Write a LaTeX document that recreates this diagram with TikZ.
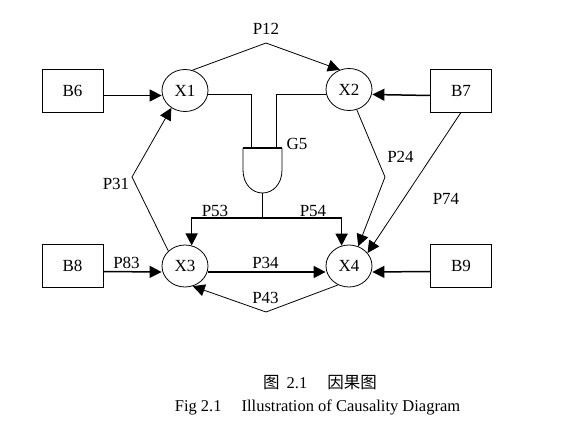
\documentclass[tikz,border=0pt]{standalone}
\usepackage{fontspec}
\setmainfont{Liberation Serif}
\newfontfamily\cjk{Noto Sans CJK SC}
\usetikzlibrary{positioning,shapes.geometric,arrows.meta}

\begin{document}
\begin{tikzpicture}[
  x=1pt, y=-1pt,
  font=\fontsize{17}{20}\selectfont,
  line width=0.8pt,
  box/.style={draw, minimum width=61pt, minimum height=43pt, inner sep=0pt},
  var/.style={draw, ellipse, minimum width=46pt, minimum height=42pt, inner sep=0pt},
  heavy/.style={line width=1.5pt},
  >={Triangle[length=12pt,width=12pt]}
]
\useasboundingbox (0,0) rectangle (580,425);

% inputs and variables
\node[box] (b6) at (72.5,90.5) {B6};
\node[var] (x1) at (185,90.5) {X1};
\node[var] (x2) at (349,89.5) {X2};
\node[box] (b7) at (461,90.5) {B7};
\node[box] (b8) at (72.5,265.5) {B8};
\node[var] (x3) at (185,266) {X3};
\node[var] (x4) at (349,266) {X4};
\node[box] (b9) at (461,265.5) {B9};

% gate G5
\coordinate (g5a) at (251,148);
\coordinate (g5b) at (276,148);
\coordinate (g5ta) at (251,94.5);
\coordinate (g5tb) at (276,94.5);
\coordinate (g5o) at (262.5,193);
\coordinate (bus) at (262.5,218);
\draw[heavy] (243,148) -- (282,148);
\draw (243,148) -- (243,170) .. controls (243,184) and (252,193) .. (g5o)
  .. controls (273,193) and (282,184) .. (282,170) -- (282,148);
\node (g5) at (297,143.5) {G5};

\draw[heavy] ([yshift=-4pt]x1.east) -- (g5ta);
\draw (g5ta) -- (g5a);
\draw[heavy] ([yshift=-5pt]x2.west) -- (g5tb);
\draw (g5tb) -- (g5b);
\draw (g5o) -- (bus);
\draw[->, heavy] (bus) -| (x3.72);
\draw[->, heavy] (bus) -| (x4.110);
\node (p53) at (215,211) {P53};
\node (p54) at (313,211) {P54};

% bends
\coordinate (k12) at (266,43);
\coordinate (k31) at (132,177);
\coordinate (k24) at (385,177);
\coordinate (k43) at (266,312);

% connectors
\draw[->] (x1.70) -- (k12) -- (x2.115);
\draw[->] (x3.138) -- (k31) -- (x1.232);
\draw[->] (x2.291) -- (k24) -- (x4.65);
\draw[->] (b7.south) -- (x4.35);
\draw[->] (x4.240) -- (k43) -- (x3.291);
\draw[->, heavy] ([yshift=-5pt]b6.east) -- ([yshift=-5pt]x1.west);
\draw[->, heavy] ([yshift=-5pt]b7.west) -- ([yshift=-5pt]x2.east);
\draw[->, heavy] ([yshift=-6pt]b8.east) -- ([yshift=-6pt]x3.west);
\draw[->, heavy] ([yshift=-6pt]x3.east) -- ([yshift=-6pt]x4.west);
\draw[->, heavy] ([yshift=-6pt]b9.west) -- ([yshift=-6pt]x4.east);

% labels
\node (p12) at (266,29) {P12};
\node (p31) at (116,184) {P31};
\node (p24) at (400.5,157) {P24};
\node (p74) at (446,198.5) {P74};
\node (p83) at (126.5,262.5) {P83};
\node (p34) at (265.5,262.5) {P34};
\node (p43) at (265.5,298) {P43};

% caption
\node[font=\fontsize{16.5}{20}\selectfont] (cap1) at (320,383)
  {{\cjk 图}\hspace{7pt}2.1\hspace{20pt}{\cjk 因果图}};
\node[font=\fontsize{16.5}{20}\selectfont] (cap2) at (317.5,407)
  {Fig 2.1\hspace{20pt}Illustration of Causality Diagram};
\end{tikzpicture}
\end{document}
